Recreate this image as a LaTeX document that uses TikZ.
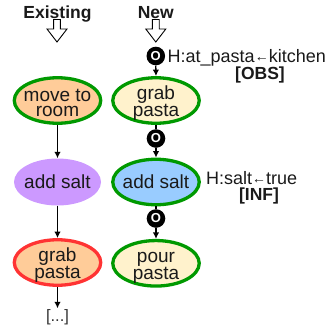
\documentclass[tikz,border=0pt]{standalone}
\usepackage{fontspec}
\setmainfont{Liberation Sans}
\usetikzlibrary{arrows.meta,calc,shapes.geometric}
\definecolor{gborder}{RGB}{0,153,0}
\definecolor{rborder}{RGB}{255,51,51}
\definecolor{orangeF}{RGB}{255,204,153}
\definecolor{yellowF}{RGB}{255,242,204}
\definecolor{purpleF}{RGB}{204,153,255}
\definecolor{blueF}{RGB}{153,204,255}
\definecolor{txtc}{RGB}{26,26,26}
\definecolor{dotc}{RGB}{51,51,51}
\begin{document}
\begin{tikzpicture}[x=1pt,y=-1pt,
  ell/.style={ellipse, minimum width=86.5pt, minimum height=45.5pt, inner sep=0pt, line width=3.3pt},
  okbox/.style={ell, draw=gborder},
  badbox/.style={ell, draw=rborder},
  plainbox/.style={ellipse, minimum width=87pt, minimum height=47pt, inner sep=0pt},
  two/.style={label={[font=\fontsize{19}{15}\selectfont, align=center, text=txtc, inner sep=0pt,
      text height=29pt, text depth=4pt, yshift=-3.45pt]center:#1}},
  one/.style={label={[font=\fontsize{19}{15}\selectfont, text=txtc, inner sep=0pt,
      text height=13.6pt, text depth=0pt]center:#1}},
  obs/.style={circle, fill=black, minimum size=18.6pt, inner sep=0pt, text=white,
      font=\bfseries\fontsize{13}{13}\selectfont},
  conn/.style={line width=1.3pt, -{Latex[length=6.5pt,width=6.5pt]}},
  link/.style={line width=1.3pt},
  hollow/.style={draw=black, fill=white, line width=0.9pt, line join=miter},
  title/.style={font=\bfseries\fontsize{17.5}{17.5}\selectfont, text=txtc, inner sep=0pt, anchor=base},
  lab/.style={font=\fontsize{18}{18}\selectfont, text=txtc, inner sep=0pt, anchor=base west},
  tag/.style={font=\bfseries\fontsize{17.5}{17.5}\selectfont, text=txtc, inner sep=0pt, anchor=base},
  dotsty/.style={font=\fontsize{16.5}{16.5}\selectfont, text=dotc, inner sep=1pt, anchor=base},
  ]
\useasboundingbox (0,0) rectangle (330,333);

% titles
\node[title] (tExist) at (57.5,18) {Existing};
\node[title] (tNew) at (155.8,18) {New};

% hollow arrows
\foreach \cx in {57,155.8}{
  \draw[hollow] (\cx-3.4,19.5) -- (\cx+3.4,19.5) -- (\cx+3.4,29) -- (\cx+10,29)
    -- (\cx,42) -- (\cx-10,29) -- (\cx-3.4,29) -- cycle;
}

% existing plan
\node[okbox, fill=orangeF, two={move to\\room}] (e1) at (57.5,100.5) {};
\node[plainbox, fill=purpleF, one={add salt}] (e2) at (57.5,182) {};
\node[badbox, fill=orangeF, two={grab\\pasta}] (e3) at (57.5,262.5) {};
\node[dotsty] (dots) at (57.5,321.5) {[...]};

\draw[conn] (e1.south) -- (e2.north);
\draw[conn] (e2.south) -- (e3.north);
\draw[conn] (e3.south) -- (dots.north);

% new plan
\node[obs] (c1) at (155.8,56) {O};
\node[okbox, fill=yellowF, two={grab\\pasta}] (e4) at (156,100.5) {};
\node[obs] (c2) at (156,138.5) {O};
\node[okbox, fill=blueF, one={add salt}] (e5) at (156,182) {};
\node[obs] (c3) at (156,218.5) {O};
\node[okbox, fill=yellowF, two={pour\\pasta}] (e6) at (156,263.3) {};

\draw[conn] (c1.south) -- (e4.north);
\draw[link] (e4.south) -- (c2.north);
\draw[conn] (c2.south) -- (e5.north);
\draw[link] (e5.south) -- (c3.north);
\draw[conn] (c3.south) -- (e6.north);

% annotations
\node[lab] (l1) at (167.5,62) {H:at\_pasta{\fontsize{14}{14}\selectfont\raisebox{0.5pt}{←}}kitchen};
\node[tag] (g1) at (260,79) {[OBS]};
\node[lab] (l2) at (206,184) {H:salt{\fontsize{14}{14}\selectfont\raisebox{0.5pt}{←}}true};
\node[tag] (g2) at (259,200) {[INF]};
\end{tikzpicture}
\end{document}
